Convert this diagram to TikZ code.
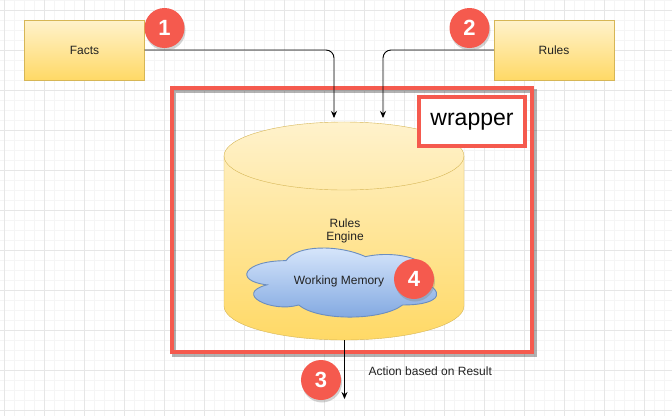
\documentclass[tikz,border=0pt]{standalone}
\usepackage{fontspec}
\setmainfont{Liberation Sans}
\usetikzlibrary{shadows,arrows.meta}
\definecolor{badgered}{HTML}{F55A4E}
\definecolor{yelTop}{HTML}{FFF2CC}
\definecolor{yelBot}{HTML}{FFD966}
\definecolor{yelStroke}{HTML}{D6B656}
\definecolor{bluTop}{HTML}{DAE8FC}
\definecolor{bluBot}{HTML}{7EA6E0}
\definecolor{bluStroke}{HTML}{6C8EBF}
\definecolor{gridMinor}{HTML}{F5F5F5}
\definecolor{gridMajor}{HTML}{E6E6E6}
\definecolor{txt}{HTML}{222222}
\begin{document}
\begin{tikzpicture}[x=1pt,y=-1pt,
  yellowbox/.style={draw=yelStroke, top color=yelTop, bottom color=yelBot,
    minimum width=120pt, minimum height=60pt, inner sep=0pt, text=txt,
    font=\fontsize{12}{14}\selectfont},
  badge/.style={circle, fill=badgered, minimum size=40pt, inner sep=0pt,
    text=white, font=\bfseries\fontsize{22}{24}\selectfont,
    drop shadow={opacity=0.35, shadow xshift=1pt, shadow yshift=-2.5pt}},
  conn/.style={draw=black, line width=0.9pt, -{Stealth[length=7pt,width=6pt]}},
  plain/.style={text=txt, font=\fontsize{12}{14}\selectfont}
]
\useasboundingbox (0,0) rectangle (672,416);
\fill[white] (0,0) rectangle (672,416);
% grid
\foreach \x in {4.3,14.3,...,672} \draw[gridMinor, line width=0.6pt] (\x,0) -- (\x,416);
\foreach \y in {0.5,10.5,...,416} \draw[gridMinor, line width=0.6pt] (0,\y) -- (672,\y);
\foreach \x in {4.3,44.3,...,672} \draw[gridMajor, line width=0.8pt] (\x,0) -- (\x,416);
\foreach \y in {10.5,50.5,...,416} \draw[gridMajor, line width=0.8pt] (0,\y) -- (672,\y);

% boxes
\node[yellowbox] (facts) at (84.5,50) {Facts};
\node[yellowbox] (rules) at (554,50) {Rules};

% wrapper frame with shadow
\draw[black, opacity=0.3, line width=4.5pt] (174,91) rectangle (534.5,355);
\node[draw=badgered, line width=4.5pt, minimum width=360pt, minimum height=264pt, inner sep=0pt] (frame) at (352,220) {};

% cylinder
\path[draw=yelStroke, top color=yelTop, bottom color=yelBot]
  (224,156) arc[start angle=180, end angle=360, x radius=120, y radius=34]
  -- (464,306) arc[start angle=0, end angle=180, x radius=120, y radius=34] -- cycle;
\draw[yelStroke] (224,156) arc[start angle=180, end angle=0, x radius=120, y radius=34];
\node[plain, align=center] (engine) at (345,231) {Rules\\[-1pt]Engine};

% cloud
\begin{scope}[shift={(233,240.5)}, xscale=212, yscale=80.6]
\path[draw=bluStroke, line width=0.9pt, top color=bluTop, bottom color=bluBot]
  (0.25,0.25) .. controls (0.05,0.25) and (0,0.5) .. (0.16,0.55)
  .. controls (0,0.66) and (0.18,0.9) .. (0.31,0.8)
  .. controls (0.4,1) and (0.7,1) .. (0.8,0.8)
  .. controls (1,0.8) and (1,0.6) .. (0.875,0.5)
  .. controls (1,0.3) and (0.8,0.1) .. (0.625,0.2)
  .. controls (0.5,0.05) and (0.3,0.05) .. (0.25,0.25) -- cycle;
\end{scope}
\node[plain] (wmtext) at (339,281) {Working Memory};

% connectors
\coordinate (in1) at (334,118);
\coordinate (in2) at (383,118);
\coordinate (engout) at (344.5,340);
\coordinate (out) at (344.5,399);
\draw[conn, rounded corners=8pt] (facts.east) -| (in1);
\draw[conn, rounded corners=8pt] (rules.west) -| (in2);
\draw[conn] (engout) -- (out);
\node[plain, anchor=west] (action) at (365,371) {Action based on Result};

% wrapper label
\node[draw=badgered, line width=4pt, fill=white, minimum width=106pt, minimum height=49pt,
  inner sep=0pt, font=\fontsize{23}{26}\selectfont] (wlabel) at (472,121.5) {wrapper};

% badges
\node[badge] (b1) at (164.5,28) {1};
\node[badge] (b2) at (469.5,28) {2};
\node[badge] (b3) at (321,380) {3};
\node[badge] (b4) at (414,279) {4};
\end{tikzpicture}
\end{document}
